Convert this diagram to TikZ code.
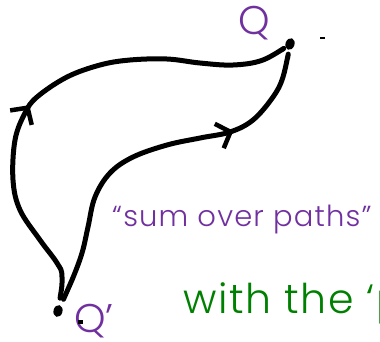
\documentclass[tikz,border=0pt]{standalone}
\usepackage{fontspec}
\setmainfont{Poppins}[UprightFont=* Light]
\usepackage{tikz}
\usetikzlibrary{arrows.meta,decorations.markings,shapes.geometric}
\definecolor{PathPurple}{RGB}{112,48,160}
\definecolor{SlideGreen}{RGB}{0,128,0}
\tikzset{
  pt/.style={ellipse,fill=black,inner sep=0pt,minimum width=9pt,minimum height=12pt},
  strand/.style={draw=black,line width=5pt,line cap=round,line join=round},
  lbl/.style={text=PathPurple,inner sep=0pt,anchor=base west},
}
\tikzset{barb/.style={postaction={decorate},decoration={markings,
  mark=at position #1 with {\arrow[line width=4.5pt]{Straight Barb[length=12pt,width=26pt]}}}}}
\begin{document}
\begin{tikzpicture}[x=1pt,y=-1pt]
\useasboundingbox (0,0) rectangle (380,341);
\node[pt,rotate=-20] (qdot) at (290,44) {};
\node[pt,rotate=-15] (qpdot) at (58,311) {};
\node[lbl,font=\fontsize{40}{42}\selectfont] (q) at (238,34) {Q};
\node[lbl,font=\fontsize{40}{42}\selectfont] (qp) at (74,332) {Q\textquoteright};
% the two paths
\draw[strand,barb=0.445,shorten <=13pt,shorten >=10pt] plot[smooth,tension=0.6] coordinates {
  (qpdot.center) (62,277) (57,263) (40,240) (20,210) (13,180) (15,140) (25,113) (37,97)
  (67,77) (100,65) (130,60) (167,59) (200,63) (233,65) (263,60) (qdot.center)};
\draw[strand,barb=0.72,shorten <=13pt,shorten >=15pt] plot[smooth,tension=0.6] coordinates {
  (qpdot.center) (72,280) (82,253) (88,227) (95,197) (110,173) (133,157) (167,145)
  (200,138) (230,132) (253,120) (273,97) (283,77) (qdot.center)};
\fill (320,37) rectangle (325,39);
\fill (78,320) rectangle (83,324);
\node[lbl,font=\fontsize{29}{32}\selectfont\addfontfeature{LetterSpace=4}] (sum) at (112,226) {``sum over paths''};
\node[lbl,text=SlideGreen,font=\fontsize{41}{44}\selectfont\addfontfeature{LetterSpace=4}] (with) at (183,313) {with the `p};
\end{tikzpicture}
\end{document}
